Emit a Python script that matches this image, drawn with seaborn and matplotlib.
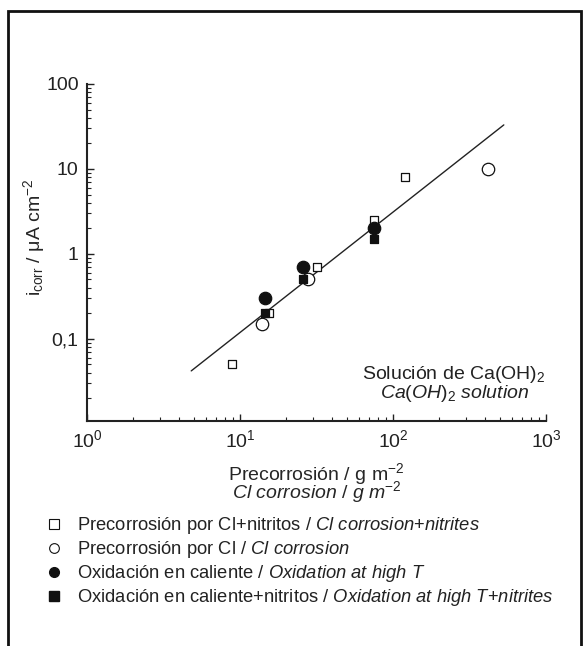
#!/usr/bin/env python3
"""
Corrosion rate vs. pre-corrosion mass loss in Ca(OH)2 solution.
Log-log scatter with regression line and bilingual legend.
"""

import numpy as np
import pandas as pd
import matplotlib
matplotlib.use("Agg")
import matplotlib.pyplot as plt
import matplotlib.ticker as mticker
from matplotlib.lines import Line2D
from matplotlib.patches import Rectangle
import seaborn as sns

# Data
cl_nitrite_x = [8.8, 15.5, 32, 75, 120]
cl_nitrite_y = [0.05, 0.2, 0.7, 2.5, 8.0]

cl_x = [14, 28, 420]
cl_y = [0.15, 0.5, 10.0]

hot_x = [14.5, 26, 75]
hot_y = [0.3, 0.7, 2.0]

hot_nitrite_x = [14.5, 26, 75]
hot_nitrite_y = [0.2, 0.5, 1.5]

fit_x = [4.8, 530]
fit_y = [0.042, 33]

series_labels_es = [
    "Precorrosión por Cl+nitritos",
    "Precorrosión por Cl",
    "Oxidación en caliente",
    "Oxidación en caliente+nitritos",
]
series_labels_en = [
    "Cl corrosion+nitrites",
    "Cl corrosion",
    "Oxidation at high T",
    "Oxidation at high T+nitrites",
]

y_ticks = [0.1, 1, 10, 100]
y_tick_labels = ["0,1", "1", "10", "100"]

# Style
sns.set_style("white")
plt.rcParams['font.family'] = ['Liberation Sans', 'DejaVu Sans']
plt.rcParams['mathtext.fontset'] = 'custom'
plt.rcParams['mathtext.rm'] = 'Liberation Sans'
plt.rcParams['mathtext.it'] = 'Liberation Sans:italic'
plt.rcParams['mathtext.bf'] = 'Liberation Sans:bold'
plt.rcParams['mathtext.sf'] = 'Liberation Sans'
plt.rcParams['text.color'] = '#222222'
plt.rcParams['xtick.direction'] = 'in'
plt.rcParams['ytick.direction'] = 'in'

FS = 14


def ital(text):
    """Italic mathtext string with spaces kept."""
    return r"$\mathit{" + text.replace(" ", r"\ ").replace("+", "{+}") + "}$"


fig = plt.figure(figsize=(5.83, 6.46), dpi=100)
ax = fig.add_axes([87 / 583, 1 - 421 / 646, 459 / 583, 337 / 646])

# Regression line
sns.lineplot(x=fit_x, y=fit_y, ax=ax, color='#222222', linewidth=1.0)

# Scatter series
specs = [
    (cl_nitrite_x, cl_nitrite_y, 's', 'white', 34),
    (cl_x, cl_y, 'o', 'white', 80),
    (hot_x, hot_y, 'o', '#111111', 80),
    (hot_nitrite_x, hot_nitrite_y, 's', '#111111', 34),
]
for xs, ys, mk, fc, size in specs:
    sns.scatterplot(x=xs, y=ys, ax=ax, marker=mk, s=size, facecolor=fc,
                    edgecolor='#111111', linewidth=0.9, zorder=3)

ax.set_xscale('log')
ax.set_yscale('log')
ax.set_xlim(1, 1000)
ax.set_ylim(0.0108, 100)

ax.yaxis.set_major_locator(mticker.FixedLocator(y_ticks))
ax.yaxis.set_major_formatter(mticker.FixedFormatter(y_tick_labels))
ax.yaxis.set_minor_locator(mticker.LogLocator(base=10, subs=np.arange(2, 10)))
ax.yaxis.set_minor_formatter(mticker.NullFormatter())
ax.xaxis.set_minor_locator(mticker.LogLocator(base=10, subs=np.arange(2, 10)))
ax.xaxis.set_minor_formatter(mticker.NullFormatter())

ax.tick_params(which='both', bottom=True, left=True, top=False, right=False,
               direction='in')
ax.tick_params(which='major', length=5, width=1.0,
               labelsize=FS, colors='#222222', pad=6)
ax.tick_params(which='minor', length=3, width=0.8, colors='#222222')

for side in ['top', 'right']:
    ax.spines[side].set_visible(False)
for side in ['left', 'bottom']:
    ax.spines[side].set_linewidth(1.5)
    ax.spines[side].set_color('#222222')

ax.set_ylabel(r"i$_{\rm corr}$ / μA cm$^{-2}$", fontsize=FS)
ax.yaxis.set_label_coords(-0.088, 0.545)
ax.set_xlabel("Precorrosión / g m$^{-2}$\n" + ital("Cl corrosion / g m") + "$^{-2}$",
              fontsize=FS, labelpad=7, linespacing=0.6)

ax.text(0.80, 0.110, "Solución de Ca(OH)$_2$\n" + ital("Ca(OH)") + "$_2$" + ital(" solution"),
        transform=ax.transAxes, ha='center', va='center', fontsize=FS,
        linespacing=0.85)

# Legend
handles = [
    Line2D([], [], linestyle='none', marker='s', markersize=6.5,
           markerfacecolor='white', markeredgecolor='#111111', markeredgewidth=0.8),
    Line2D([], [], linestyle='none', marker='o', markersize=7,
           markerfacecolor='white', markeredgecolor='#111111', markeredgewidth=0.8),
    Line2D([], [], linestyle='none', marker='o', markersize=7,
           markerfacecolor='#111111', markeredgecolor='#111111'),
    Line2D([], [], linestyle='none', marker='s', markersize=6.5,
           markerfacecolor='#111111', markeredgecolor='#111111'),
]
labels = [f"{es} / {ital(en)}" for es, en in zip(series_labels_es, series_labels_en)]
fig.legend(handles, labels, loc='upper left', bbox_to_anchor=(37 / 583, 1 - 508 / 646),
           frameon=False, fontsize=13.2, handletextpad=0.8, labelspacing=0.16,
           handlelength=1.0, borderaxespad=0, borderpad=0.4)

# Outer frame
fig.patches.append(Rectangle((8 / 583, -0.05), 573 / 583, 1.05 - 11 / 646,
                             transform=fig.transFigure, fill=False,
                             edgecolor='#111111', linewidth=2.0))

fig.savefig('out.png', dpi=100)
